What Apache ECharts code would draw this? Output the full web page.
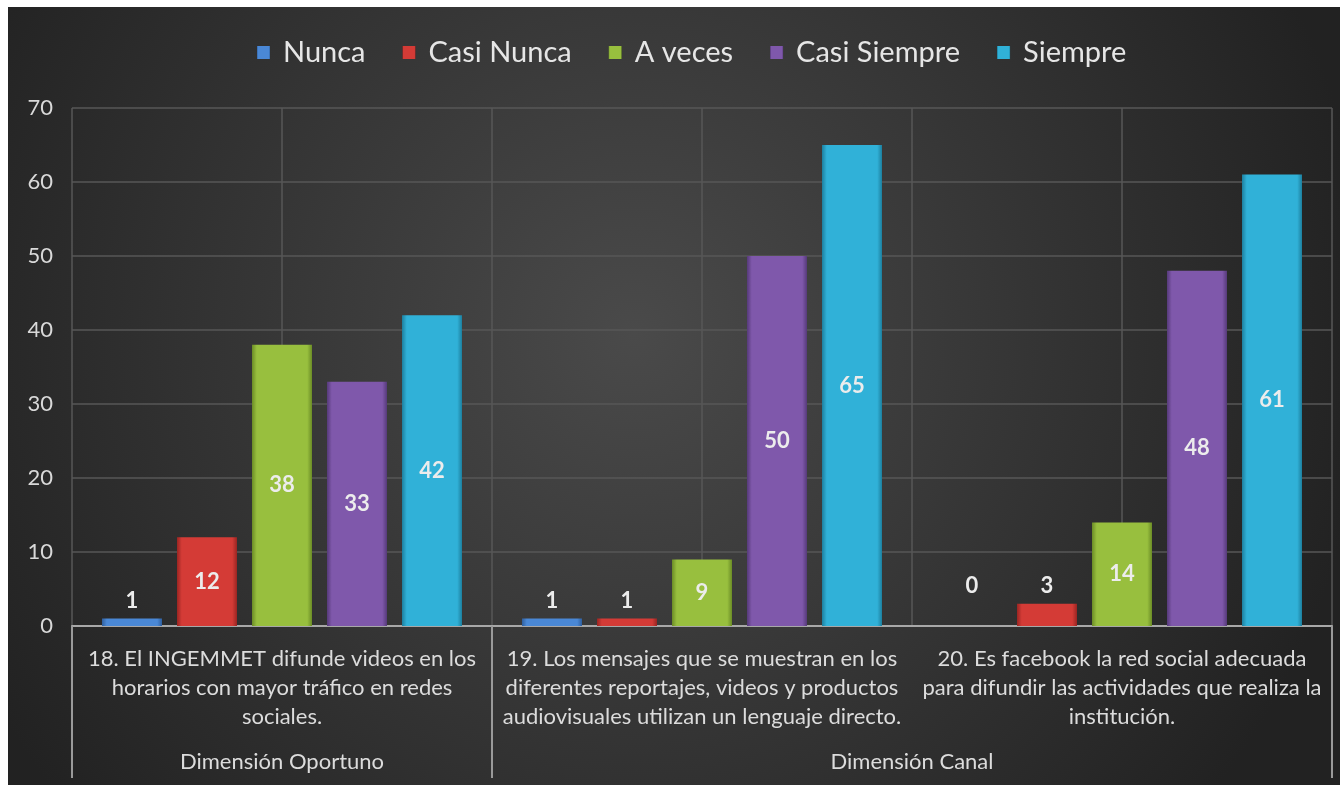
<!DOCTYPE html>
<html>
<head>
<meta charset="utf-8">
<script src="https://cdn.jsdelivr.net/npm/echarts@6/dist/echarts.min.js"></script>
<style>
  html, body { margin: 0; padding: 0; background: #ffffff; }
  #encuesta { position: absolute; left: 8px; top: 7px; width: 1332px; height: 778px; }
</style>
</head>
<body>
<div id="encuesta"></div>
<script>
  // preguntas (categorias del eje x)
  var preguntas = [
    '18. El INGEMMET difunde videos en los\nhorarios con mayor tráfico en redes\nsociales.',
    '19. Los mensajes que se muestran en los\ndiferentes reportajes, videos y productos\naudiovisuales utilizan un lenguaje directo.',
    '20. Es facebook la red social adecuada\npara difundir las actividades que realiza la\ninstitución.'
  ];
  // segundo nivel del eje (dimensiones)
  var dimensiones = ['', 'Dimensión Oportuno', '', '', 'Dimensión Canal', '', ''];

  var nunca = [1, 1, 0];
  var casiNunca = [12, 1, 3];
  var aVeces = [38, 9, 14];
  var casiSiempre = [33, 50, 48];
  var siempre = [42, 65, 61];

  var fuente = 'Lato, "Open Sans", sans-serif';

  var chart = echarts.init(document.getElementById('encuesta'));

  function bevel(base, dark) {
    return new echarts.graphic.LinearGradient(0, 0, 1, 0, [
      {offset: 0, color: dark},
      {offset: 0.08, color: base},
      {offset: 0.92, color: base},
      {offset: 1, color: dark}
    ]);
  }

  function serie(name, values, base, dark) {
    return {
      name: name,
      type: 'bar',
      barWidth: 60,
      barGap: '25%',
      itemStyle: {color: bevel(base, dark)},
      label: {
        show: true,
        position: 'inside',
        color: '#ececec',
        fontFamily: fuente,
        fontWeight: 'bold',
        fontSize: 22
      },
      data: values.map(function (v) {
        // valores pequenos: etiqueta encima de la barra
        if (v < 5) {
          return {value: v, label: {position: 'top', distance: 7, offset: [0, v === 0 ? -22 : 0]}};
        }
        return v;
      })
    };
  }

  var option = {
    backgroundColor: new echarts.graphic.RadialGradient(0.47, 0.42, 0.95, [
      {offset: 0, color: '#4a4a4a'},
      {offset: 1, color: '#222222'}
    ]),
    animation: false,
    legend: {
      top: 26,
      left: 244,
      itemWidth: 13,
      itemHeight: 13,
      itemGap: 37,
      icon: 'rect',
      textStyle: {color: '#e6e6e6', fontSize: 29, fontFamily: fuente, padding: [0, 0, 0, 8]}
    },
    grid: {left: 64, right: 8, top: 101, bottom: 159},
    xAxis: [
      {
        type: 'category',
        data: preguntas,
        axisLine: {lineStyle: {color: '#a8a8a8', width: 2}},
        axisTick: {show: false},
        axisLabel: {
          interval: 0,
          color: '#dcdcdc',
          fontSize: 22,
          lineHeight: 29,
          margin: 18,
          fontFamily: fuente
        },
        splitLine: {show: false}
      },
      {
        type: 'category',
        data: dimensiones,
        boundaryGap: false,
        position: 'bottom',
        offset: 152,
        axisLine: {show: false},
        axisTick: {
          show: true,
          inside: true,
          length: 152,
          interval: function (i) { return i === 0 || i === 2 || i === 6; },
          lineStyle: {color: '#9a9a9a', width: 2}
        },
        axisLabel: {
          inside: true,
          interval: 0,
          margin: 5,
          color: '#dcdcdc',
          fontSize: 22,
          fontFamily: fuente
        },
        splitLine: {show: true, interval: 0, lineStyle: {color: '#575757', width: 1.5}}
      }
    ],
    yAxis: {
      type: 'value',
      min: 0,
      max: 70,
      interval: 10,
      axisLine: {show: false},
      axisTick: {show: false},
      axisLabel: {color: '#d9d9d9', fontSize: 22, margin: 19, fontFamily: fuente},
      splitLine: {lineStyle: {color: '#575757', width: 1.5}}
    },
    series: [
      serie('Nunca', nunca, '#4a88d6', '#2f5f9e'),
      serie('Casi Nunca', casiNunca, '#d43b36', '#9a2522'),
      serie('A veces', aVeces, '#98bf3e', '#6b8c26'),
      serie('Casi Siempre', casiSiempre, '#7f58ab', '#563a7a'),
      serie('Siempre', siempre, '#30b1d8', '#1d7f9e')
    ]
  };

  chart.setOption(option);
</script>
</body>
</html>
